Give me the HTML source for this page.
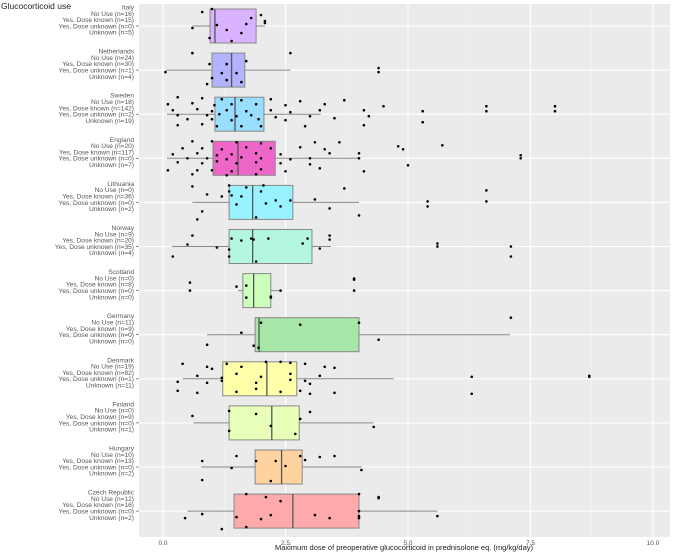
<!DOCTYPE html>
<html><head><meta charset="utf-8"><style>
body{margin:0;background:#fff;font-family:"Liberation Sans",sans-serif}
svg{display:block}
text{font-family:"Liberation Sans",sans-serif}
</style></head><body>
<svg id="chart" width="676" height="553">
<text x="1" y="9" font-size="8.5" fill="#222">Glucocorticoid use</text>
<rect x="139" y="4" width="531" height="533" fill="#ebebeb"/>
<g id="grid"></g><g id="marks"></g><g id="labels"></g>
<text x="404" y="550" font-size="7.5" fill="#222" text-anchor="middle">Maximum dose of preoperative glucocorticoid in prednisolone eq. (mg/kg/day)</text>
</svg>
<script>
const countries=["Italy","Netherlands","Sweden","England","Lithuania","Norway","Scotland","Germany","Denmark","Finland","Hungary","Czech Republic"];
const counts=[[16,15,0,5],[24,30,1,4],[18,142,2,19],[20,117,0,7],[0,36,0,2],[9,20,35,4],[0,8,0,0],[11,9,0,0],[19,82,1,11],[0,9,0,1],[10,13,0,2],[12,16,0,2]];
const q1=[0.96,1.0,1.06,1.02,1.35,1.35,1.63,1.88,1.22,1.35,1.88,1.45];
const med=[1.06,1.4,1.47,1.53,1.83,1.83,1.85,1.96,2.12,2.22,2.42,2.65];
const q3=[1.9,1.67,2.06,2.29,2.65,3.04,2.2,4.0,2.73,2.78,2.84,4.0];
const wlo=[0.6,0.06,0.08,0.08,0.6,0.18,1.53,0.9,0.4,0.62,0.78,0.5];
const whi=[2.08,2.6,3.22,4.0,4.0,3.43,2.4,7.08,4.71,4.3,4.05,5.6];
const fills=["#d9b3ff","#b3b3ff","#99ddff","#ee66c8","#99f2ff","#b3f7e0","#ccffbb","#a6e6a6","#ffffaa","#e8ffb8","#ffd3a0","#ffaaaa"];
const pts=[
[[1.0,-17],[2.0,-11],[1.8,-8],[2.08,-5],[2.08,-3],[1.1,-1],[0.6,2],[1.3,4],[1.6,7],[0.95,12],[1.4,15],[0.8,-14],[1.7,-2]],
[[0.6,-17],[2.6,-17],[1.7,-9],[0.95,-6],[1.3,-6],[0.05,2],[1.2,3],[1.5,3],[4.4,-2],[4.4,2],[1.0,8],[1.3,10],[1.6,12],[0.9,14]],
[[0.3,-17],[0.8,-16],[1.2,-15],[1.6,-14],[2.2,-15],[3.7,-14],[2.8,-13],[0.1,-10],[0.6,-11],[1.05,-9],[1.4,-10],[1.9,-10],[2.5,-9],[3.3,-10],[4.5,-8],[6.6,-8],[8.0,-8],[0.2,-4],[0.7,-5],[1.0,-3],[1.3,-4],[1.7,-3],[2.2,-4],[2.6,-2],[3.2,-4],[4.1,-4],[5.3,-3],[6.6,-3],[8.0,-3],[0.3,1],[0.9,1],[1.15,0],[1.5,2],[1.8,1],[2.3,3],[3.0,2],[4.2,2],[0.5,5],[1.0,5],[1.4,6],[1.95,5],[2.5,6],[3.5,4],[5.3,8],[0.3,11],[0.8,10],[1.1,12],[1.6,12],[2.0,12],[2.9,12],[4.1,11]],
[[0.6,-17],[1.0,-17],[1.5,-16],[2.0,-15],[3.1,-16],[3.6,-16],[4.8,-12],[5.7,-13],[0.4,-10],[0.8,-10],[1.2,-9],[1.7,-11],[2.2,-10],[2.8,-11],[3.3,-9],[4.9,-9],[0.2,-4],[0.7,-5],[1.1,-3],[1.4,-4],[1.9,-5],[2.4,-4],[3.4,-5],[4.0,-5],[0.5,0],[0.9,0],[1.3,1],[1.6,-1],[2.0,0],[2.6,1],[3.0,0],[4.0,0],[7.3,-3],[7.3,0],[0.3,4],[0.8,5],[1.1,3],[1.5,5],[1.9,4],[2.4,5],[3.0,6],[5.0,7],[0.1,12],[0.7,12],[1.0,12],[1.4,13],[2.0,11],[2.5,13],[3.2,10],[4.1,13],[0.6,16],[1.3,17],[1.9,16]],
[[0.6,-16],[1.35,-17],[2.05,-17],[3.7,-14],[1.35,-11],[1.7,-15],[2.0,-11],[0.9,-8],[1.2,-6],[1.4,-7],[1.6,-6],[2.3,-2],[2.6,-2],[3.1,-3],[5.4,-1],[6.6,-1],[5.4,4],[6.6,-12],[1.5,2],[2.1,1],[2.4,4],[3.4,6],[4.0,13],[0.8,9],[1.9,15],[0.7,17]],
[[0.6,-11],[0.5,-2],[3.4,-11],[3.4,-7],[1.4,-8],[1.6,-6],[1.8,-8],[1.85,-7],[2.15,-8],[2.85,-3],[2.95,-8],[1.1,1],[1.35,3],[5.6,-3],[5.6,0],[7.1,0],[0.2,10],[1.35,10],[1.9,15],[7.1,10],[3.2,2]],
[[0.55,-8],[0.55,0],[1.5,-4],[1.7,-5],[1.7,7],[2.2,7],[2.2,6],[2.4,0],[3.9,-12],[3.9,-11],[3.9,0]],
[[7.1,-17],[2.0,-12],[2.8,-10],[4.0,-12],[1.6,-2],[0.9,10],[1.85,11],[1.95,13],[4.4,5]],
[[0.4,-15],[0.9,-12],[1.0,-10],[1.3,-15],[1.6,-12],[2.1,-17],[2.4,-17],[2.6,-16],[2.9,-15],[3.3,-12],[3.5,-11],[1.5,-5],[0.7,-3],[1.2,-1],[2.0,-2],[2.6,-5],[3.2,-3],[0.3,3],[0.9,4],[1.9,4],[2.6,1],[3.0,5],[6.3,-2],[8.7,-3],[8.7,-2],[0.3,12],[0.7,14],[1.5,13],[1.9,10],[2.4,13],[2.8,12],[3.0,15],[3.5,14],[6.3,15],[1.2,2],[2.9,2]],
[[0.6,-7],[1.35,-12],[1.9,-9],[2.8,-4],[3.0,-11],[4.3,4],[2.2,3],[1.35,8],[2.7,11]],
[[0.8,-6],[1.5,-11],[1.4,1],[1.9,-6],[2.3,-6],[2.8,-11],[2.5,-1],[2.9,-7],[3.2,-10],[3.5,-11],[4.05,3],[0.8,13],[2.2,14]],
[[1.7,-17],[2.1,-14],[2.4,-10],[4.0,-17],[4.4,-14],[4.4,-13],[0.45,7],[0.8,3],[1.5,6],[2.0,8],[2.2,4],[3.1,4],[3.4,7],[4.0,5],[4.0,7],[5.6,5],[1.2,18],[1.7,16],[4.0,0]]
];
const ticks=[0,2.5,5,7.5,10];
const tickLabels=["0.0","2.5","5.0","7.5","10.0"];
const NS="http://www.w3.org/2000/svg";
const X=v=>163+49*v;
const Y=i=>26+44.1*i;
function mk(tag,attrs,parent){const e=document.createElementNS(NS,tag);for(const k in attrs)e.setAttribute(k,attrs[k]);parent.appendChild(e);return e;}
const grid=document.getElementById('grid'),marks=document.getElementById('marks'),labels=document.getElementById('labels');
for(let i=0;i<ticks.length-1;i++){const l=mk('line',{x1:X(ticks[i]+1.25),x2:X(ticks[i]+1.25),y1:4,y2:537,stroke:'#f5f5f5','stroke-width':0.6},grid);

}
ticks.forEach((t,i)=>{const l=mk('line',{x1:X(t),x2:X(t),y1:4,y2:537,stroke:'#fff','stroke-width':1.1},grid);


const tx=mk('text',{x:X(t),y:545,'font-size':6.5,fill:'#555','text-anchor':'middle'},labels);tx.textContent=tickLabels[i];

});
countries.forEach((c,i)=>{const y=Y(i);
const g=mk('line',{x1:139,x2:670,y1:y,y2:y,stroke:'#fff','stroke-width':1.1},grid);


const w=mk('line',{x1:X(wlo[i]),x2:X(whi[i]),y1:y,y2:y,stroke:'#888','stroke-width':1},marks);


const b=mk('rect',{x:X(q1[i]),y:y-17,width:X(q3[i])-X(q1[i]),height:34,fill:fills[i],stroke:'#888','stroke-width':1},marks);


const m=mk('line',{x1:X(med[i]),x2:X(med[i]),y1:y-17,y2:y+17,stroke:'#555','stroke-width':1.3},marks);


pts[i].forEach(p=>{const d=mk('circle',{cx:X(p[0]),cy:y+p[1],r:1.3,fill:'#000'},marks);

});
const tk=mk('line',{x1:136,x2:139,y1:y,y2:y,stroke:'#444','stroke-width':0.6},labels);


const n=counts[i];
const lines=[c,`No Use (n=${n[0]})`,`Yes, Dose known (n=${n[1]})`,`Yes, Dose unknown (n=${n[2]})`,`Unknown (n=${n[3]})`];
lines.forEach((s,k)=>{const t=mk('text',{x:134,y:y-16.5+6.3*k,'font-size':6.6,fill:'#555','text-anchor':'end'},labels);t.textContent=s;

});
});
</script>
</body></html>
